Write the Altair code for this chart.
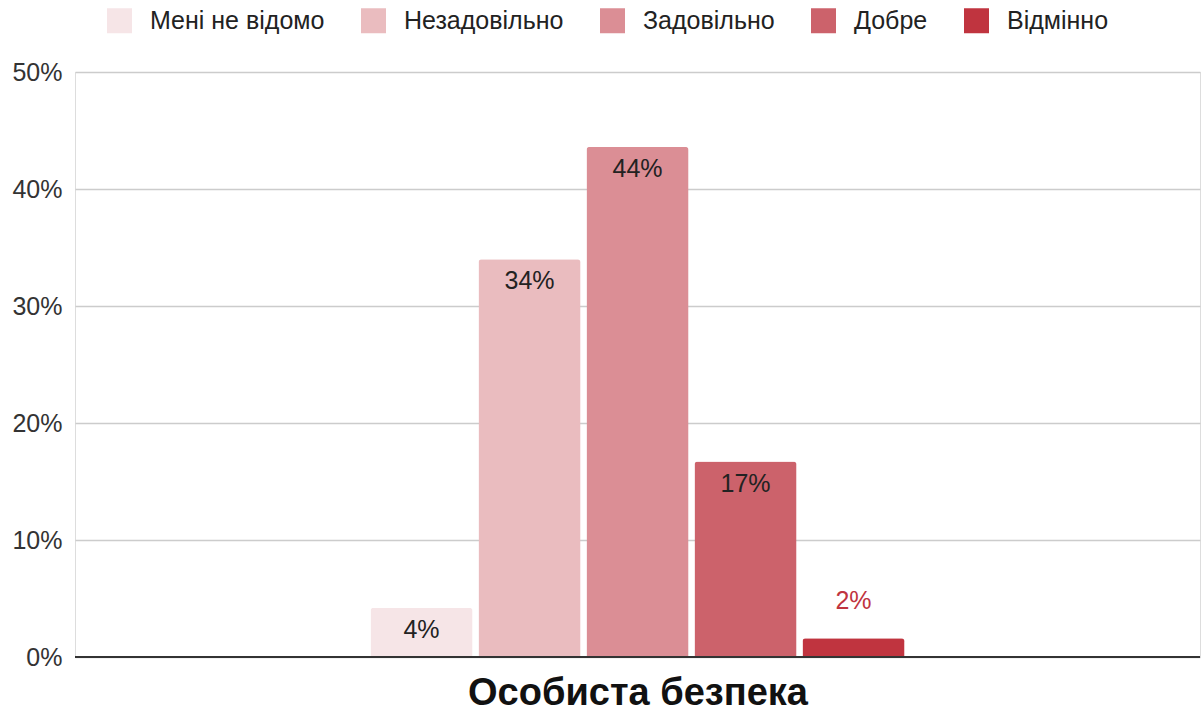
import altair as alt
import pandas as pd

# Survey ratings for one question
ratings = ["Мені не відомо", "Незадовільно", "Задовільно", "Добре", "Відмінно"]
shares = [0.042, 0.340, 0.436, 0.167, 0.016]
colors = ["#f6e5e7", "#eabcbf", "#db8e95", "#cc626b", "#c0343f"]
category = "Особиста безпека"

df = pd.DataFrame({"rating": ratings, "share": shares, "category": category})

FONT = "Liberation Sans"

x_enc = alt.X(
    "category:N",
    scale=alt.Scale(paddingInner=0, paddingOuter=0.5417),
    axis=alt.Axis(labels=False, ticks=False, domain=False, grid=False,
                  title=category, titleFontSize=38, titleFontWeight="bold",
                  titleColor="#111", titleFont=FONT, titlePadding=17),
)
off_enc = alt.XOffset(
    "rating:N", sort=ratings,
    scale=alt.Scale(paddingInner=0.055, paddingOuter=0.0275),
)
y_enc = alt.Y(
    "share:Q",
    scale=alt.Scale(domain=[0, 0.5], nice=False),
    axis=alt.Axis(format=".0%", values=[0, 0.1, 0.2, 0.3, 0.4, 0.5],
                  labelFontSize=25, labelColor="#333", labelFont=FONT,
                  labelPadding=13, ticks=False, domain=False,
                  gridColor="#cccccc", gridWidth=1.5, title=None),
)

bars = alt.Chart(df).mark_bar(cornerRadiusTopLeft=3, cornerRadiusTopRight=3).encode(
    x=x_enc,
    xOffset=off_enc,
    y=y_enc,
    color=alt.Color(
        "rating:N",
        sort=ratings,
        scale=alt.Scale(domain=ratings, range=colors),
        legend=alt.Legend(
            title=None, orient="none", direction="horizontal",
            legendX=32, legendY=-64,
            symbolType="square", symbolSize=625, symbolStrokeWidth=0,
            symbolOpacity=1, labelFontSize=25, labelFont=FONT,
            labelColor="#222", labelOffset=18, labelLimit=400,
            columnPadding=36,
        ),
    ),
)

inside = alt.Chart(df).transform_filter("datum.share >= 0.03").mark_text(
    baseline="top", dy=10, fontSize=25, font=FONT, color="#222"
).encode(
    x=alt.X("category:N"),
    xOffset=off_enc,
    y="share:Q",
    text=alt.Text("share:Q", format=".0%"),
)

outside = alt.Chart(df).transform_filter("datum.share < 0.03").mark_text(
    baseline="alphabetic", dy=-29, fontSize=25, font=FONT, color="#c0343f"
).encode(
    x=alt.X("category:N"),
    xOffset=off_enc,
    y="share:Q",
    text=alt.Text("share:Q", format=".0%"),
)

baseline = alt.Chart(df).mark_rule(color="#333333", strokeWidth=2).encode(
    y=alt.datum(0)
)

chart = (
    alt.layer(bars, inside, outside, baseline)
    .properties(
        width=1125, height=585,
        autosize=alt.AutoSizeParams(type="none"),
        padding={"left": 75, "top": 72, "right": 4, "bottom": 58},
    )
    .configure_view(stroke=None)
    .configure(background="white")
)

chart.save("out.html", embed_options={"renderer": "svg", "actions": False})
